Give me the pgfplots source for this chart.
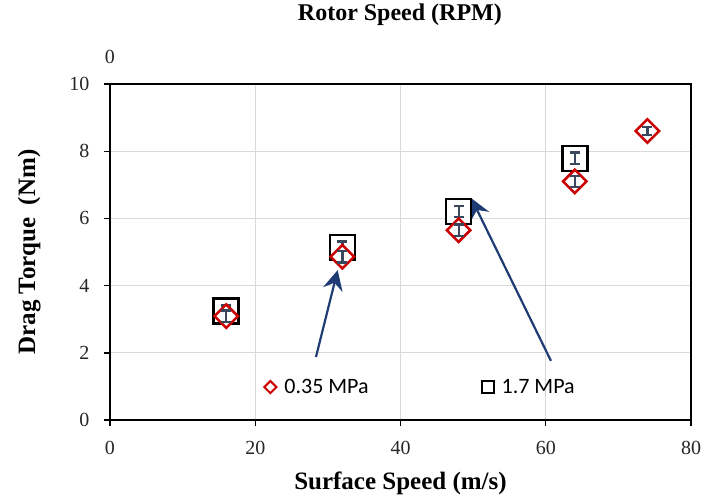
\documentclass[border=0pt]{standalone}
\usepackage{fontspec}
\setmainfont{Liberation Serif}
\newfontfamily\legfont{Carlito}
\usepackage{pgfplots}
\pgfplotsset{compat=1.18}
\usetikzlibrary{arrows.meta}
\definecolor{mred}{HTML}{CC0000}
\definecolor{errc}{HTML}{3A475C}
\definecolor{arr}{HTML}{1F3B73}
\definecolor{gridc}{HTML}{D9D9D9}
\definecolor{tickc}{HTML}{262626}
% error-bar mark: vertical bar of half-height = mark size, with 10pt caps
\pgfdeclareplotmark{errI}{%
  \pgfpathmoveto{\pgfqpoint{0pt}{-\pgfplotmarksize}}%
  \pgfpathlineto{\pgfqpoint{0pt}{\pgfplotmarksize}}%
  \pgfpathmoveto{\pgfqpoint{-5pt}{\pgfplotmarksize}}%
  \pgfpathlineto{\pgfqpoint{5pt}{\pgfplotmarksize}}%
  \pgfpathmoveto{\pgfqpoint{-5pt}{-\pgfplotmarksize}}%
  \pgfpathlineto{\pgfqpoint{5pt}{-\pgfplotmarksize}}%
  \pgfusepathqstroke}
\pgfplotsset{errbar/.style={forget plot, only marks, mark=errI,
  mark options={solid, line width=2.2pt, draw=errc}}}
\begin{document}
\begin{tikzpicture}
\begin{axis}[
 scale only axis, width=581pt, height=336pt,
 xmin=0, xmax=80, ymin=0, ymax=10,
 xtick={0,20,...,80}, ytick={0,2,...,10},
 grid=major, major grid style={draw=gridc, line width=1.3pt},
 axis line style={black, line width=1.4pt},
 tick align=outside, tick pos=left, major tick length=6pt,
 tick style={black, line width=1.4pt},
 ticklabel style={font=\fontsize{20}{20}\selectfont, text=tickc},
 xticklabel style={yshift=-12pt},
 yticklabel style={xshift=-11pt},
 /pgf/number format/assume math mode=true,
 clip=false,
 xlabel={\bfseries Surface Speed (m/s)},
 ylabel={\bfseries Drag Torque\ \ (Nm)},
 xlabel style={font=\fontsize{25}{25}\selectfont, at={(axis description cs:0.5,-0.1875)}, anchor=center},
 ylabel style={font=\fontsize{25}{25}\selectfont, at={(axis description cs:-0.139,0.5)}, anchor=center},
 title={\bfseries Rotor Speed (RPM)},
 every axis title shift=0pt,
 title style={font=\fontsize{24}{24}\selectfont, at={(axis description cs:0.499,1.206)}, anchor=center},
 legend style={draw=none, fill=none, at={(axis cs:20.8,0.98)}, anchor=west,
   font=\legfont\fontsize{22}{22}\selectfont, legend columns=2,
   /tikz/every odd column/.append style={column sep=6pt},
   /tikz/every even column/.append style={column sep=111pt}},
]
\addlegendimage{only marks, mark=square*, mark size=4.3pt, mark options={draw=mred, fill=white, line width=2pt, rotate=45}}
\addlegendentry{0.35 MPa}
\addlegendimage{only marks, mark=square*, mark size=6pt, mark options={draw=black, fill=white, line width=2pt}}
\addlegendentry{1.7 MPa}

% 1.7 MPa squares (mean values)
\addplot[forget plot, only marks, mark=square*, mark size=12.5pt,
  mark options={draw=black, fill=white, line width=2.5pt}]
  coordinates {(16,3.24) (32,5.14) (48,6.21) (64,7.79)};
% 1.7 MPa error bars (about +/-0.17 Nm = 5.7pt)
\addplot[errbar, mark size=5.7pt] coordinates {(16,3.24) (32,5.14) (48,6.21) (64,7.79)};

% 0.35 MPa diamonds (mean values)
\addplot[forget plot, only marks, mark=square*, mark size=8.3pt,
  mark options={draw=mred, fill=white, line width=2.5pt, rotate=45}]
  coordinates {(16,3.09) (32,4.86) (48,5.65) (64,7.10) (74,8.60)};
% 0.35 MPa error bars
\addplot[errbar, mark size=5.7pt] coordinates {(16,3.09) (32,4.86) (48,5.65) (64,7.10)};
\addplot[errbar, mark size=4.2pt] coordinates {(74,8.60)};

% arrows
\addplot[forget plot, arr, line width=2.2pt, -{Stealth[length=20pt, width=20pt, inset=7pt]}]
  coordinates {(28.36,1.875) (31.35,4.46)};
\addplot[forget plot, arr, line width=2.2pt, -{Stealth[length=20pt, width=20pt, inset=7pt]}]
  coordinates {(60.72,1.76) (49.75,6.60)};

\node[font=\fontsize{20}{20}\selectfont, text=tickc] at (axis description cs:0,1.080) {0};
\end{axis}
\pgfresetboundingbox
\path[use as bounding box] ([shift={(-110pt,-81pt)}]current axis.south west) rectangle ([shift={(12pt,84pt)}]current axis.north east);
\end{tikzpicture}
\end{document}
